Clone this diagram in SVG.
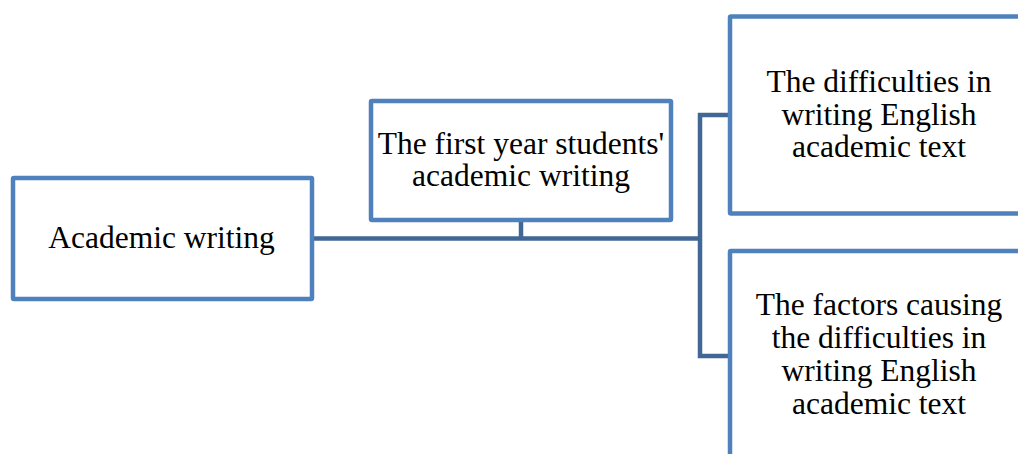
<svg xmlns="http://www.w3.org/2000/svg" width="1018" height="454" viewBox="0 0 1018 454">
<style>
.box{fill:#ffffff;stroke:#4f81bd;stroke-width:4.5;}
.conn{fill:none;stroke:#416795;stroke-width:4.5;}
.t{font-family:"Liberation Serif","Times New Roman",serif;font-size:31.5px;fill:#000000;text-anchor:middle;}
</style>
<rect width="1018" height="454" fill="#ffffff"/>
<g id="connectors">
<path class="conn" d="M312,238.5 H700"/>
<path class="conn" d="M521,220 V238.5"/>
<path class="conn" d="M730,115 H700 V356 H730"/>
</g>
<g id="n1">
<rect class="box" x="13" y="178" width="299" height="121" rx="1"/>
<text class="t" x="161.5" y="248">Academic writing</text>
</g>
<g id="n2">
<rect class="box" x="371" y="101" width="300" height="119" rx="1"/>
<text class="t" x="521" y="154">The first year students'</text>
<text class="t" x="521" y="186">academic writing</text>
</g>
<g id="n3">
<rect class="box" x="730" y="16.5" width="400" height="197" rx="1"/>
<text class="t" x="879" y="92">The difficulties in</text>
<text class="t" x="879" y="124.5">writing English</text>
<text class="t" x="879" y="157">academic text</text>
</g>
<g id="n4">
<rect class="box" x="730" y="251" width="400" height="260" rx="1"/>
<text class="t" x="879" y="315">The factors causing</text>
<text class="t" x="879" y="348">the difficulties in</text>
<text class="t" x="879" y="381">writing English</text>
<text class="t" x="879" y="414">academic text</text>
</g>
</svg>
